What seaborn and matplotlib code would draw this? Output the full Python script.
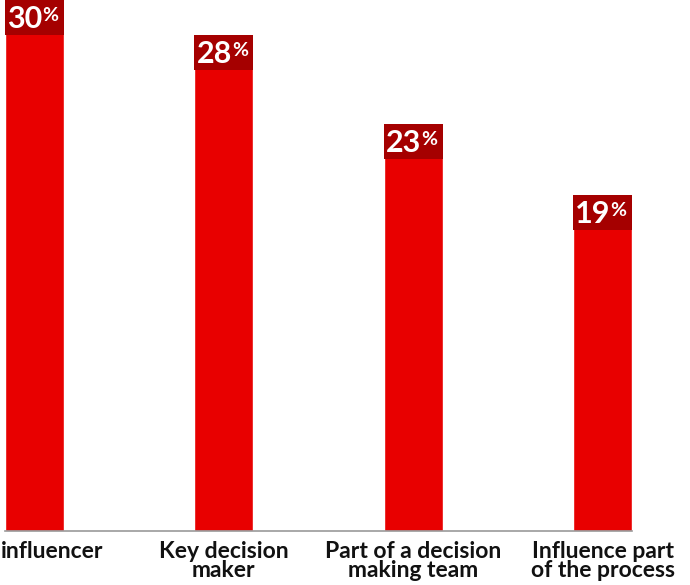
import matplotlib
matplotlib.use("Agg")
import matplotlib.pyplot as plt
from matplotlib.transforms import offset_copy, ScaledTranslation
import seaborn as sns
import pandas as pd

categories = ["influencer", "Key decision\nmaker", "Part of a decision\nmaking team", "Influence part\nof the process"]
values = [30, 28, 23, 19]

BAR_RED = "#E80000"
BOX_RED = "#A50000"
FONT = ["Lato", "DejaVu Sans"]

sns.set_theme(style="white")
plt.rcParams["font.family"] = FONT

df = pd.DataFrame({"role": categories, "share": values})

W, H, DPI = 690, 585, 100
fig = plt.figure(figsize=(W / DPI, H / DPI), dpi=DPI, facecolor="white")
ax = fig.add_axes([5 / W, 54 / H, 627 / W, 531 / H])

bar_w = 0.31
sns.barplot(data=df, x="role", y="share", color=BAR_RED, width=bar_w,
            saturation=1, ax=ax)

ymax = max(values)
ax.set_ylim(0, ymax)
ax.set_xlim(-bar_w / 2, len(values) - 1 + bar_w / 2)

# dark value tabs at the top of each bar
px_per_unit = 531 / ymax
box_h = 35 / px_per_unit
xs = list(range(len(values)))
ax.bar(xs, [box_h] * len(values), bottom=[v - box_h for v in values],
       width=bar_w, color=BOX_RED, linewidth=0)

pt = 72 / DPI  # points per pixel
for x, v in zip(xs, values):
    t_num = offset_copy(ax.transData, fig=fig, x=8 * pt,
                        y=(7 - 35) * pt, units="points")
    ax.text(x, v, f"{v}", transform=t_num, ha="right", va="baseline",
            color="white", fontsize=22, fontweight="bold", family=FONT)
    t_pct = offset_copy(ax.transData, fig=fig, x=8 * pt, y=-7 * pt,
                        units="points")
    ax.text(x, v, "%", transform=t_pct, ha="left", va="top",
            color="white", fontsize=14, fontweight="bold", family=FONT)

ax.set_xlabel("")
ax.set_ylabel("")
ax.set_yticks([])
ax.tick_params(axis="x", length=0, pad=7)
labels = ax.get_xticklabels()
for lbl in labels:
    lbl.set_fontsize(16.5)
    lbl.set_fontweight("bold")
    lbl.set_color("#111111")
    lbl.set_linespacing(0.92)
    lbl.set_family(FONT)
# first label runs from the left edge of the figure
labels[0].set_ha("left")
labels[0].set_transform(labels[0].get_transform()
                        + ScaledTranslation(-33 / DPI, 0, fig.dpi_scale_trans))

for side in ["top", "right", "left"]:
    ax.spines[side].set_visible(False)
ax.spines["bottom"].set_color("#9a9a9a")
ax.spines["bottom"].set_linewidth(1.2)

fig.savefig("out.png", dpi=DPI, facecolor="white")
